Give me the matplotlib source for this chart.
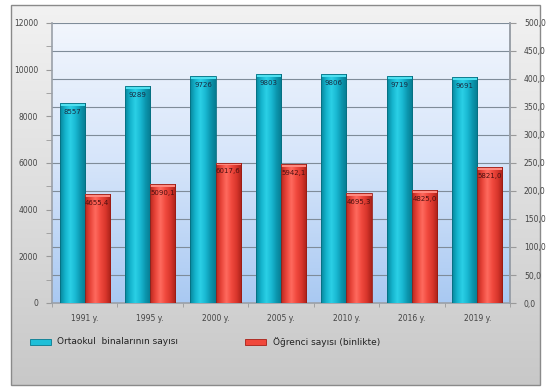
import numpy as np
import matplotlib
matplotlib.use("Agg")
import matplotlib.pyplot as plt
from matplotlib.patches import Rectangle
from matplotlib.colors import LinearSegmentedColormap

years = ["1991", "1995", "2000", "2005", "2010", "2016", "2019"]
buildings = [8557, 9289, 9726, 9803, 9806, 9719, 9691]
students = [4655.4, 5090.1, 6017.6, 5942.1, 4695.3, 4825.0, 5821.0]
building_labels = ["8557", "9289", "9726", "9803", "9806", "9719", "9691"]
student_labels = ["4655,4", "5090,1", "6017,6", "5942,1", "4695,3", "4825,0", "5821,0"]
legend_names = ["Ortaokul  binalarının sayısı", "Öğrenci sayısı (binlikte)"]

W, H = 549, 387
fig = plt.figure(figsize=(W / 100, H / 100), dpi=100)
fig.patch.set_facecolor("white")

# framed grey panel behind the chart
bg = fig.add_axes([0, 0, 1, 1], zorder=0)
bg.set_xlim(0, W)
bg.set_ylim(H, 0)
bg.axis("off")
panel_grad = np.linspace(0, 1, 256).reshape(-1, 1)
panel_cmap = LinearSegmentedColormap.from_list("panel", ["#f2f2f2", "#dedede", "#c8c8c8"])
bg.imshow(panel_grad, cmap=panel_cmap, extent=[11, 540, 385, 5], aspect="auto", zorder=0)
bg.add_patch(Rectangle((11, 5), 529, 380, fill=False, edgecolor="#8a8a8a", lw=1.0, zorder=1))

x0, x1 = 52, 510
y0, y1 = 23, 303
ax = fig.add_axes([x0 / W, 1 - y1 / H, (x1 - x0) / W, (y1 - y0) / H], zorder=1)
ax.set_xlim(-0.5, len(years) - 0.5)
ax.set_ylim(0, 12000)

# plot area gradient: pale at the top, light blue at the bottom
area_cmap = LinearSegmentedColormap.from_list("area", ["#f2f6fd", "#d6e5fa", "#a9c9f2"])
ax.imshow(np.linspace(0, 1, 256).reshape(-1, 1), cmap=area_cmap,
          extent=[-0.5, len(years) - 0.5, 0, 12000], aspect="auto", zorder=0)

# horizontal grid follows the right-hand scale
for v in np.arange(0, 501, 50)[1:]:
    ax.axhline(v * 12000 / 500, color="#7f8c99", lw=0.8, zorder=1)

blue_cmap = LinearSegmentedColormap.from_list(
    "blue", ["#07849a", "#14b3cc", "#2bd0e6", "#19b8d2", "#0b95ad", "#067a8f"])
red_cmap = LinearSegmentedColormap.from_list(
    "red", ["#b8261c", "#e8443a", "#ff6a5e", "#f0493e", "#d8362c", "#a82018"])

bw = 25 / 65
xs = np.arange(len(years))
bars_b = ax.bar(xs - bw / 2, buildings, width=bw, color="#19b5d0", zorder=2)
bars_r = ax.bar(xs + bw / 2, students, width=bw, color="#f0483c", zorder=2)

hgrad = np.linspace(0, 1, 256).reshape(1, -1)
for bars, cmap, cap, edge in ((bars_b, blue_cmap, "#4fe0f0", "#066e80"),
                              (bars_r, red_cmap, "#ff8a80", "#9a1c14")):
    for b in bars:
        bx, by, bwid, bh = b.get_x(), b.get_y(), b.get_width(), b.get_height()
        im = ax.imshow(hgrad, cmap=cmap, extent=[bx, bx + bwid, by, by + bh],
                       aspect="auto", zorder=3)
        im.set_clip_path(b)
        ax.add_patch(Rectangle((bx, by + bh - 120), bwid, 120, color=cap, lw=0, zorder=4))
        ax.add_patch(Rectangle((bx, by), bwid, bh, fill=False, edgecolor=edge, lw=0.6, zorder=4))
        b.set_alpha(0)

for i in range(len(years)):
    ax.text(xs[i] - bw / 2, buildings[i] - 380, building_labels[i], ha="center", va="center",
            fontsize=5, color="#1a2a40", zorder=5)
    ax.text(xs[i] + bw / 2, students[i] - 380, student_labels[i], ha="center", va="center",
            fontsize=5, color="#4a1010", zorder=5)

ax.set_xticks(xs)
ax.set_xticklabels([f"{y} y." for y in years], fontsize=5.5, color="#444444")
ax.set_xticks(np.arange(-0.5, len(years)), minor=True)
ax.tick_params(axis="x", which="major", length=0, pad=8)
ax.tick_params(axis="x", which="minor", length=3, color="#999999")

ax.set_yticks(np.arange(0, 12001, 2000))
ax.set_yticklabels([str(v) for v in range(0, 12001, 2000)], fontsize=5.5, color="#444444")
ax.set_yticks(np.arange(0, 12001, 1000), minor=True)
ax.tick_params(axis="y", which="both", length=4, color="#999999", pad=6)

ax.spines["top"].set_visible(False)
for side in ("left", "bottom", "right"):
    ax.spines[side].set_color("#9aa0a8")
    ax.spines[side].set_linewidth(1.2)

ax2 = ax.twinx()
ax2.set_ylim(0, 500)
ax2.set_yticks(np.arange(0, 501, 50))
ax2.set_yticklabels([f"{v},0" for v in range(0, 501, 50)], fontsize=5.5, color="#444444")
ax2.tick_params(axis="y", length=4, color="#999999", pad=6)
for side in ("top", "left", "bottom"):
    ax2.spines[side].set_visible(False)
ax2.spines["right"].set_color("#9aa0a8")
ax2.spines["right"].set_linewidth(1.2)

# legend drawn on the panel
for (px, tx), name, face, edge in (((30, 57), legend_names[0], "#1fbfd8", "#087a90"),
                                    ((245, 273), legend_names[1], "#f0483c", "#a82018")):
    bg.add_patch(Rectangle((px, 339), 21, 6, facecolor=face, edgecolor=edge, lw=0.6, zorder=2))
    bg.text(tx, 342, name, fontsize=6.5, color="#222222", va="center", ha="left", zorder=2)

fig.savefig("out.png", dpi=100)
